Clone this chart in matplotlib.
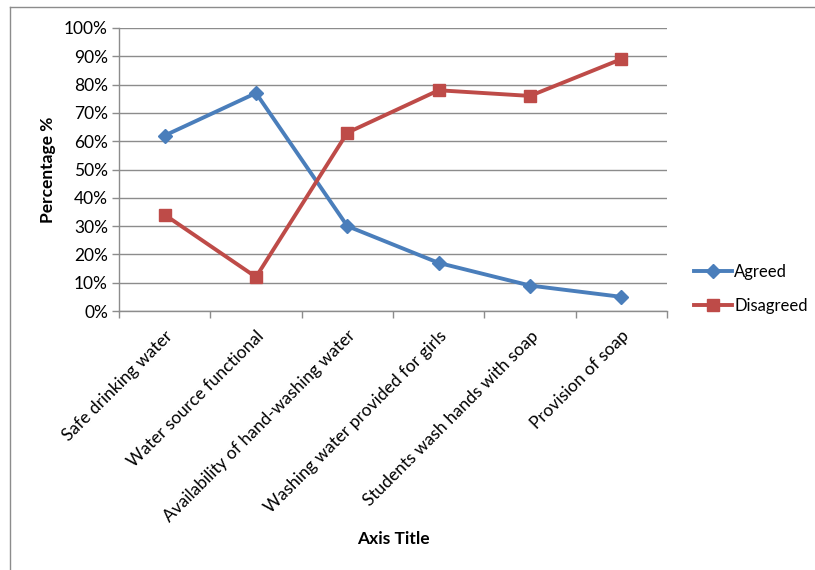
import numpy as np
import matplotlib
matplotlib.use("Agg")
import matplotlib.pyplot as plt
from matplotlib.lines import Line2D
from matplotlib.ticker import FuncFormatter, MultipleLocator

categories = ["Safe drinking water", "Water source functional",
              "Availability of hand-washing water",
              "Washing water provided for girls",
              "Students wash hands with soap", "Provision of soap"]
agreed = [62, 77, 30, 17, 9, 5]
disagreed = [34, 12, 63, 78, 76, 89]

plt.rcParams['font.family'] = ['Lato', 'DejaVu Sans']

W, H = 815, 570
fig = plt.figure(figsize=(W / 100, H / 100), dpi=100)

# plot area in pixel coords: left 119, right 667, top 28, bottom 311
ax = fig.add_axes([119 / W, 1 - 311 / H, (667 - 119) / W, (311 - 28) / H])

x = np.arange(len(categories))
blue = "#4A7EBB"
red = "#BE4B48"
ax.plot(x, agreed, color=blue, lw=2.8, marker="D", ms=7, label="Agreed", zorder=3)
ax.plot(x, disagreed, color=red, lw=2.8, marker="s", ms=9, label="Disagreed", zorder=3)

ax.set_xlim(-0.5, len(categories) - 0.5)
ax.set_ylim(0, 100)
ax.yaxis.set_major_locator(MultipleLocator(10))
ax.yaxis.set_major_formatter(FuncFormatter(lambda v, p: f"{int(v)}%"))
ax.grid(axis="y", color="#8C8C8C", lw=1.0)
ax.set_axisbelow(True)

fs = 12.5
ax.set_xticks(x)
ax.set_xticklabels(categories, rotation=45, ha="right", rotation_mode="anchor", fontsize=fs)
ax.tick_params(axis="x", length=0, pad=12)
# category boundary ticks
ax.set_xticks(np.arange(-0.5, len(categories)), minor=True)
ax.tick_params(axis="x", which="minor", length=5, color="#8C8C8C", width=1)
ax.tick_params(axis="y", length=5, color="#8C8C8C", width=1, labelsize=fs, pad=3)

for s in ["top", "right"]:
    ax.spines[s].set_visible(False)
for s in ["left", "bottom"]:
    ax.spines[s].set_color("#8C8C8C")
    ax.spines[s].set_linewidth(1)

ax.set_ylabel("Percentage %", fontsize=fs, fontweight="bold", labelpad=6)
fig.text(393 / W, 1 - 539 / H, "Axis Title", fontsize=fs, fontweight="bold",
         ha="center", va="center")

fig.legend(loc="center left", bbox_to_anchor=(694 / W, 1 - 289 / H), frameon=False,
           fontsize=12, handlelength=2.3, handletextpad=0.1, labelspacing=1.1,
           borderaxespad=0, borderpad=0)

# chart border
fig.add_artist(Line2D([10 / W, 10 / W], [0, 1 - 7 / H], color="#8C8C8C", lw=1))
fig.add_artist(Line2D([10 / W, 1], [1 - 7 / H, 1 - 7 / H], color="#8C8C8C", lw=1))

fig.savefig("out.png", dpi=100)
